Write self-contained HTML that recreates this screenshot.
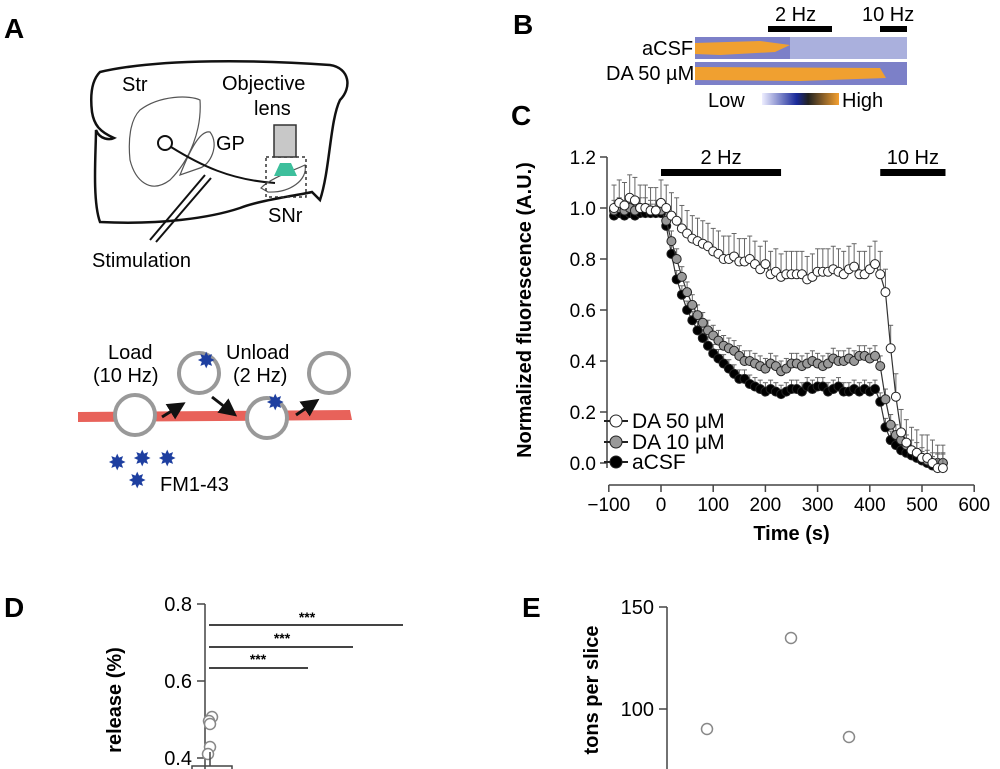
<!DOCTYPE html>
<html><head><meta charset="utf-8"><style>
html,body{margin:0;padding:0;background:#fff;}
svg{display:block;font-family:"Liberation Sans",sans-serif;}
</style></head><body>
<svg id="fig" width="1000" height="769" viewBox="0 0 1000 769">
<defs><marker id="ah" markerWidth="6" markerHeight="6" refX="3" refY="3" orient="auto"><path d="M0,0 L6,3 L0,6 Z" fill="#111"/></marker>
<linearGradient id="cb"><stop offset="0" stop-color="#eef"/><stop offset="0.45" stop-color="#1a2a9a"/><stop offset="0.6" stop-color="#222"/><stop offset="1" stop-color="#f5a030"/></linearGradient></defs>
<!-- Panel A -->
<g>
<text x="4" y="38" font-size="28" font-weight="bold">A</text>
<path d="M100,72 C160,58 260,60 330,65 C350,68 352,88 340,100 C330,120 330,170 320,200 L312,192 C300,195 260,200 240,208 C210,218 160,225 100,222 C92,200 96,150 96,130 C100,140 110,140 114,138 C100,132 94,125 92,112 C90,95 92,80 100,72 Z" fill="none" stroke="#111" stroke-width="2.5"/>
<path d="M140,110 C160,95 190,95 200,100 C202,130 190,160 170,180 C150,195 135,180 130,160 C128,140 130,120 140,110 Z" fill="none" stroke="#555" stroke-width="1.2"/>
<path d="M180,175 C190,150 200,130 210,132 C220,145 210,165 200,168 Z" fill="none" stroke="#555" stroke-width="1.2"/>
<circle cx="165" cy="143" r="7" fill="none" stroke="#111" stroke-width="2"/>
<path d="M171,147 C200,165 230,180 275,183" fill="none" stroke="#111" stroke-width="2"/>
<path d="M261,188 C270,178 295,170 305,165 C308,180 290,193 268,192 Z" fill="none" stroke="#555" stroke-width="1.2"/>
<rect x="266" y="157" width="40" height="40" fill="none" stroke="#333" stroke-width="1.5" stroke-dasharray="3,3"/>
<rect x="274" y="125" width="22" height="32" fill="#c8c8c8" stroke="#333" stroke-width="1.5"/>
<polygon points="280,163 291,163 297,176 274,176" fill="#3dbf9c"/>
<line x1="150" y1="240" x2="205" y2="175" stroke="#111" stroke-width="2"/>
<line x1="156" y1="242" x2="211" y2="178" stroke="#111" stroke-width="2"/>
<text x="122" y="91" font-size="20">Str</text>
<text x="222" y="90" font-size="20">Objective</text>
<text x="254" y="115" font-size="20">lens</text>
<text x="216" y="150" font-size="20">GP</text>
<text x="268" y="222" font-size="20">SNr</text>
<text x="92" y="267" font-size="20">Stimulation</text>
<path d="M78,412 L350,410 L352,420 L78,422 Z" fill="#e8625a"/>
<g fill="#fff" stroke="#999" stroke-width="4">
<circle cx="135" cy="415" r="20"/><circle cx="199" cy="373" r="20"/><circle cx="267" cy="418" r="20"/><circle cx="329" cy="373" r="20"/></g>
<g stroke="#111" stroke-width="3" marker-end="url(#ah)"><line x1="162" y1="417" x2="178" y2="407"/><line x1="212" y1="397" x2="230" y2="411"/><line x1="296" y1="415" x2="312" y2="404"/></g>
<g fill="#1e3fa0" font-size="22">
<text x="197" y="368">✸</text><text x="266" y="410">✸</text><text x="108" y="470">✸</text><text x="133" y="466">✸</text><text x="158" y="466">✸</text><text x="128" y="488">✸</text></g>
<text x="108" y="359" font-size="20">Load</text>
<text x="93" y="382" font-size="20">(10 Hz)</text>
<text x="226" y="359" font-size="20">Unload</text>
<text x="233" y="382" font-size="20">(2 Hz)</text>
<text x="160" y="491" font-size="20">FM1-43</text>
</g>
<!-- Panel B -->
<g>
<text x="513" y="34" font-size="28" font-weight="bold">B</text>
<rect x="768" y="26" width="64" height="6" fill="#000"/><text x="775" y="21" font-size="20">2 Hz</text>
<rect x="880" y="26" width="27" height="6" fill="#000"/><text x="862" y="21" font-size="20">10 Hz</text>
<rect x="695" y="37" width="212" height="22" fill="#7c80c8"/>
<rect x="790" y="37" width="117" height="22" fill="#aab0dd"/>
<path d="M695,43 L760,41 L790,45 L775,52 L720,55 L695,54 Z" fill="#f0a030"/>
<rect x="695" y="62" width="212" height="23" fill="#7c80c8"/>
<path d="M695,67 L880,68 L886,78 L800,81 L695,80 Z" fill="#f0a030"/>
<text x="642" y="55" font-size="20">aCSF</text>
<text x="606" y="80" font-size="20">DA 50 µM</text>
<rect x="762" y="93" width="77" height="12" fill="url(#cb)"/>
<text x="708" y="107" font-size="20">Low</text><text x="842" y="107" font-size="20">High</text>
</g>
<!-- Panel C -->
<g id="chartC">
<text x="511" y="125" font-size="28" font-weight="bold">C</text>
</g>
<!-- Panel D -->
<g>
<text x="4" y="617" font-size="28" font-weight="bold">D</text>
<line x1="205" y1="604" x2="205" y2="769" stroke="#444" stroke-width="1.5"/>
<g stroke="#444" stroke-width="1.5"><line x1="197" y1="604" x2="205" y2="604"/><line x1="197" y1="681" x2="205" y2="681"/><line x1="197" y1="758" x2="205" y2="758"/></g>
<g font-size="20" text-anchor="end"><text x="192" y="611">0.8</text><text x="192" y="688">0.6</text><text x="192" y="765">0.4</text></g>
<text transform="translate(121,700) rotate(-90)" font-size="20" font-weight="bold" text-anchor="middle">release (%)</text>
<g stroke="#444" stroke-width="2"><line x1="209" y1="625" x2="403" y2="625"/><line x1="209" y1="647" x2="353" y2="647"/><line x1="209" y1="668" x2="308" y2="668"/></g>
<g font-size="14" font-weight="bold" text-anchor="middle"><text x="307" y="622">***</text><text x="282" y="643">***</text><text x="258" y="664">***</text></g>
<g fill="#fff" stroke="#888" stroke-width="1.5"><circle cx="212" cy="717" r="5.5"/><circle cx="209" cy="721" r="5.5"/><circle cx="210" cy="724" r="5.5"/><circle cx="210" cy="747" r="5.5"/><circle cx="208" cy="754" r="5.5"/></g>
<rect x="192" y="766" width="40" height="6" fill="none" stroke="#444" stroke-width="1.5"/><line x1="210" y1="752" x2="210" y2="766" stroke="#444" stroke-width="1.5"/>
</g>
<!-- Panel E -->
<g>
<text x="522" y="617" font-size="28" font-weight="bold">E</text>
<line x1="667" y1="607" x2="667" y2="769" stroke="#444" stroke-width="1.5"/>
<g stroke="#444" stroke-width="1.5"><line x1="659" y1="607" x2="667" y2="607"/><line x1="659" y1="709" x2="667" y2="709"/></g>
<g font-size="20" text-anchor="end"><text x="654" y="614">150</text><text x="654" y="716">100</text></g>
<text transform="translate(598,690) rotate(-90)" font-size="20" font-weight="bold" text-anchor="middle">tons per slice</text>
<g fill="#fff" stroke="#888" stroke-width="1.5"><circle cx="707" cy="729" r="5.5"/><circle cx="791" cy="638" r="5.5"/><circle cx="849" cy="737" r="5.5"/></g>
</g>
</svg>
<script>
const times=[-90,-80,-70,-60,-50,-40,-30,-20,-10,0,10,20,30,40,50,60,70,80,90,100,110,120,130,140,150,160,170,180,190,200,210,220,230,240,250,260,270,280,290,300,310,320,330,340,350,360,370,380,390,400,410,420,430,440,450,460,470,480,490,500,510,520,530,540];
const da50=[1.0,1.02,1.01,1.04,1.03,1.0,1.0,0.99,0.99,1.02,1.0,0.97,0.95,0.92,0.9,0.88,0.87,0.86,0.85,0.83,0.82,0.8,0.8,0.81,0.79,0.79,0.8,0.78,0.76,0.78,0.74,0.75,0.73,0.74,0.74,0.74,0.74,0.72,0.73,0.75,0.75,0.75,0.76,0.75,0.74,0.76,0.77,0.74,0.74,0.76,0.78,0.74,0.67,0.45,0.26,0.12,0.08,0.05,0.04,0.02,0.02,0.0,-0.02,-0.02];
const da10=[0.99,1.0,0.99,1.0,0.99,1.0,1.0,0.99,0.99,0.99,0.95,0.87,0.8,0.73,0.67,0.62,0.58,0.55,0.52,0.5,0.48,0.46,0.45,0.44,0.42,0.4,0.4,0.39,0.38,0.37,0.39,0.38,0.36,0.37,0.39,0.39,0.38,0.39,0.4,0.39,0.38,0.39,0.41,0.4,0.4,0.41,0.4,0.42,0.42,0.41,0.42,0.38,0.25,0.15,0.11,0.09,0.07,0.05,0.04,0.02,0.01,0.0,0.0,0.0];
const acsf=[0.97,0.98,0.97,0.98,0.97,0.98,0.98,0.98,0.98,0.98,0.93,0.82,0.72,0.66,0.6,0.56,0.52,0.49,0.46,0.43,0.41,0.39,0.37,0.35,0.33,0.33,0.31,0.3,0.29,0.28,0.29,0.28,0.27,0.28,0.29,0.29,0.28,0.3,0.29,0.3,0.3,0.28,0.29,0.3,0.28,0.28,0.29,0.28,0.29,0.28,0.29,0.24,0.14,0.09,0.07,0.05,0.04,0.03,0.02,0.01,0.0,-0.01,0.0,0.0];
const err50=0.09, err10=0.04, errA=0.035;
const xTicks=[-100,0,100,200,300,400,500,600];
const xTickLabels=["\u2212100","0","100","200","300","400","500","600"];
const yTicks=[0,0.2,0.4,0.6,0.8,1.0,1.2];
const yTickLabels=["0.0","0.2","0.4","0.6","0.8","1.0","1.2"];
const stimBars=[[0,230,"2 Hz"],[420,545,"10 Hz"]];
const NS="http://www.w3.org/2000/svg";
const g=document.getElementById('chartC');
const X=t=>661+0.522*t, Y=v=>463-255*v;
function mk(tag,a,p){const e=document.createElementNS(NS,tag);for(const k in a)e.setAttribute(k,a[k]);(p||g).appendChild(e);return e;}
let ax=mk('line',{x1:607,y1:157,x2:607,y2:468,stroke:'#444','stroke-width':1.5});


let bx=mk('line',{x1:X(-100),y1:485,x2:X(600),y2:485,stroke:'#444','stroke-width':1.5});


yTicks.forEach((v,i)=>{mk('line',{x1:600,y1:Y(v),x2:607,y2:Y(v),stroke:'#444','stroke-width':1.5});
 const t=mk('text',{x:596,y:Y(v)+7,'font-size':19,'text-anchor':'end'});t.textContent=yTickLabels[i];
 
 });
xTicks.forEach((v,i)=>{mk('line',{x1:X(v),y1:485,x2:X(v),y2:492,stroke:'#444','stroke-width':1.5});
 const t=mk('text',{x:X(v),y:511,'font-size':19,'text-anchor':'middle'});t.textContent=xTickLabels[i];
 
 });
let xt=mk('text',{x:X(250),y:540,'font-size':20,'font-weight':'bold','text-anchor':'middle'});xt.textContent='Time (s)';


let yt=mk('text',{transform:'translate(531,310) rotate(-90)','font-size':20,'font-weight':'bold','text-anchor':'middle'});yt.textContent='Normalized fluorescence (A.U.)';


stimBars.forEach(b=>{const r=mk('rect',{x:X(b[0]),y:169,width:X(b[1])-X(b[0]),height:7,fill:'#000'});
 
 
 const t=mk('text',{x:(X(b[0])+X(b[1]))/2,y:164,'font-size':20,'text-anchor':'middle'});t.textContent=b[2];});
function series(vals,err,fill,name){
 const gg=mk('g',{});
 
 
 let d='';vals.forEach((v,i)=>{d+=(i?'L':'M')+X(times[i])+','+Y(v);
  mk('line',{x1:X(times[i]),y1:Y(v),x2:X(times[i]),y2:Y(v+err),stroke:'#666','stroke-width':1},gg);
  mk('line',{x1:X(times[i])-2.5,y1:Y(v+err),x2:X(times[i])+2.5,y2:Y(v+err),stroke:'#666','stroke-width':1},gg);});
 mk('path',{d:d,fill:'none',stroke:'#333','stroke-width':1.2},gg);
 vals.forEach((v,i)=>{const c=mk('circle',{cx:X(times[i]),cy:Y(v),r:4.5,fill:fill,stroke:'#222','stroke-width':1},gg);
  
  });
}
series(acsf,errA,'#000','series-acsf');
series(da10,err10,'#999','series-da10');
series(da50,err50,'#fff','series-da50');
[['DA 50 µM','#fff',428],['DA 10 µM','#999',449],['aCSF','#000',469]].forEach(l=>{
 const lg=mk('g',{});
 
 
 mk('line',{x1:604,y1:l[2]-7,x2:628,y2:l[2]-7,stroke:'#222','stroke-width':2},lg);
 mk('circle',{cx:616,cy:l[2]-7,r:6,fill:l[1],stroke:'#222','stroke-width':1},lg);
 const t=mk('text',{x:632,y:l[2],'font-size':21},lg);t.textContent=l[0];});
</script>
</body></html>
